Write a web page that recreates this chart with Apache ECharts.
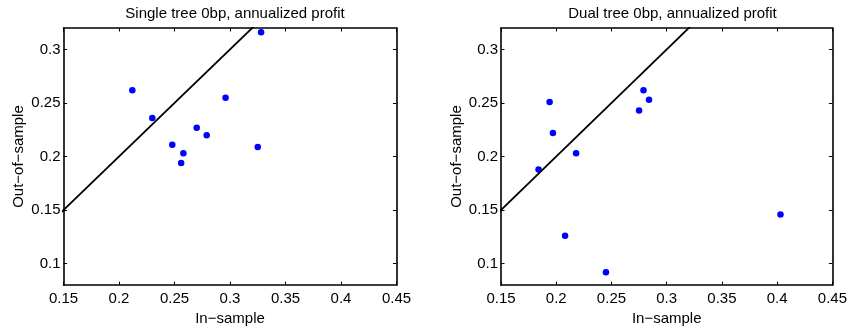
<!DOCTYPE html>
<html>
<head>
<meta charset="utf-8">
<script src="https://cdn.jsdelivr.net/npm/echarts@6/dist/echarts.min.js"></script>
<style>
  html, body { margin: 0; padding: 0; background: #fff; }
  #chart { width: 850px; height: 331px; }
</style>
</head>
<body>
<div id="chart"></div>
<script>
// In-sample vs out-of-sample annualized profit, one point per run
const singleIn  = [0.212, 0.230, 0.248, 0.258, 0.256, 0.270, 0.279, 0.296, 0.325, 0.328];
const singleOut = [0.262, 0.236, 0.211, 0.203, 0.194, 0.227, 0.220, 0.255, 0.209, 0.316];
const dualIn    = [0.184, 0.194, 0.197, 0.208, 0.218, 0.245, 0.275, 0.279, 0.284, 0.403];
const dualOut   = [0.188, 0.251, 0.222, 0.126, 0.203, 0.092, 0.243, 0.262, 0.253, 0.146];

// reference diagonal y = x
const diagonal = [0.0, 0.5];

const titles = ['Single tree 0bp, annualized profit', 'Dual tree 0bp, annualized profit'];
const xTicks = [0.15, 0.2, 0.25, 0.3, 0.35, 0.4, 0.45];
const yTicks = [0.1, 0.15, 0.2, 0.25, 0.3];
const xRange = [0.15, 0.45];
const yRange = [0.08, 0.32];

const FONT = '"Liberation Sans", Arial, Helvetica, sans-serif';
const FS = 15;
const panels = [
  { left: 63.5, ins: singleIn, outs: singleOut },
  { left: 501, ins: dualIn, outs: dualOut }
];
const PW = 333, PT = 28, PH = 258.5;

const grid = [], xAxis = [], yAxis = [], series = [], title = [];

panels.forEach((p, i) => {
  grid.push({ left: p.left, top: PT, width: PW, height: PH });
  title.push({
    text: titles[i], left: p.left + PW / 2, top: 1, textAlign: 'center',
    textStyle: { fontFamily: FONT, fontSize: FS, fontWeight: 'normal', color: '#000' }
  });
  const line = { show: true, lineStyle: { color: '#000', width: 1.6 } };
  const tick = (vals) => ({ show: true, inside: true, length: 3.5, customValues: vals, lineStyle: { color: '#000', width: 1 } });
  // bottom (labelled) and top (ticks only) x axes
  xAxis.push({
    gridIndex: i, type: 'value', min: xRange[0], max: xRange[1], position: 'bottom',
    axisLine: line, axisTick: tick(xTicks), splitLine: { show: false },
    axisLabel: { customValues: xTicks, fontFamily: FONT, fontSize: FS, color: '#000', margin: 6 },
    name: 'In\u2212sample', nameLocation: 'middle', nameGap: 20,
    nameTextStyle: { fontFamily: FONT, fontSize: FS, color: '#000' }
  });
  xAxis.push({
    gridIndex: i, type: 'value', min: xRange[0], max: xRange[1], position: 'top',
    axisLine: line, axisTick: tick(xTicks), splitLine: { show: false }, axisLabel: { show: false }
  });
  // left (labelled) and right (ticks only) y axes
  yAxis.push({
    gridIndex: i, type: 'value', min: yRange[0], max: yRange[1], position: 'left',
    axisLine: line, axisTick: tick(yTicks), splitLine: { show: false },
    axisLabel: { customValues: yTicks, fontFamily: FONT, fontSize: FS, color: '#000', margin: 3 },
    name: 'Out\u2212of\u2212sample', nameLocation: 'middle', nameGap: 37,
    nameTextStyle: { fontFamily: FONT, fontSize: FS, color: '#000' }
  });
  yAxis.push({
    gridIndex: i, type: 'value', min: yRange[0], max: yRange[1], position: 'right',
    axisLine: line, axisTick: tick(yTicks), splitLine: { show: false }, axisLabel: { show: false }
  });

  series.push({
    type: 'line', xAxisIndex: i * 2, yAxisIndex: i * 2,
    data: diagonal.map(v => [v, v]), showSymbol: false, clip: true,
    lineStyle: { color: '#000', width: 1.8 }, silent: true, animation: false
  });
  series.push({
    type: 'scatter', xAxisIndex: i * 2, yAxisIndex: i * 2,
    data: p.ins.map((x, k) => [x, p.outs[k]]),
    symbol: 'circle', symbolSize: 6.5,
    itemStyle: { color: '#0000ff', opacity: 1 }, animation: false
  });
});

const chart = echarts.init(document.getElementById('chart'), null, { renderer: 'canvas' });
chart.setOption({ animation: false, backgroundColor: '#fff', title, grid, xAxis, yAxis, series });
</script>
</body>
</html>
